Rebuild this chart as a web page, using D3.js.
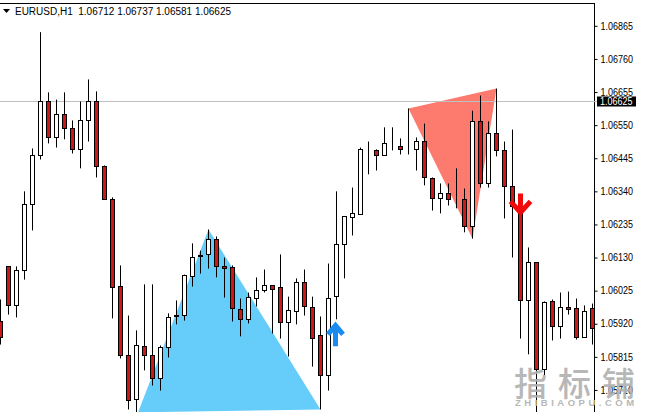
<!DOCTYPE html>
<html><head><meta charset="utf-8">
<script src="https://cdnjs.cloudflare.com/ajax/libs/d3/7.8.5/d3.min.js"></script>
<style>html,body{margin:0;padding:0;background:#fff;overflow:hidden}svg{display:block}</style>
</head><body><svg id="c" width="647" height="412"></svg>
<script>
// prices in points (1e-5)
const opens =[105927,106102,105978,106089,106298,106454,106625,106511,106584,106539,106473,106565,106625,106419,106314,106038,105819,105680,105848,105819,105746,105845,105943,105946,106070,106133,106140,106187,106102,106098,105965,105934,106000,106026,106041,106035,105924,105959,106051,105972,105883,105756,106006,106171,106257,106267,106473,106470,106454,106485,106482,106473,106473,106498,106381,106317,106333,106314,106314,106229,106562,106365,106524,106470,106355,106289,105994,106114,105775,105991,105911,105972,105968,105876,105968];
const highs =[105997,106102,106102,106340,106476,106845,106654,106631,106654,106565,106625,106695,106657,106422,106321,106105,105946,105899,106045,106045,105851,105953,105994,106076,106175,106152,106219,106197,106130,106105,106000,106019,106067,106092,106041,106140,106006,106064,106092,106006,105943,106111,106340,106260,106352,106479,106498,106473,106543,106543,106508,106603,106511,106555,106384,106365,106365,106413,106349,106596,106644,106562,106666,106498,106536,106327,106162,106114,105991,105997,106019,106022,106000,105978,105984];
const lows  =[105854,105949,105940,106060,106216,106441,106492,106479,106505,106460,106413,106498,106384,106314,105937,105810,105648,105639,105772,105724,105708,105813,105918,105930,106038,106079,106095,106067,106003,105927,105880,105921,105975,106019,105889,105873,105816,105918,105946,105784,105648,105708,105934,106064,106200,106267,106394,106406,106454,106470,106457,106457,106406,106359,106279,106270,106295,106286,106210,106190,106352,106352,106451,106254,106130,105873,105823,105639,105756,105867,105873,105949,105870,105876,105854];
const closes=[105876,105978,106089,106298,106454,106625,106511,106584,106539,106473,106565,106625,106419,106314,106035,105819,105677,105851,105819,105746,105845,105940,105946,106073,106130,106137,106187,106102,106095,105968,105934,106003,106026,106041,106029,105924,105962,106051,105975,105873,105756,106000,106171,106260,106270,106473,106473,106454,106492,106485,106473,106473,106498,106384,106317,106333,106314,106314,106229,106562,106365,106524,106470,106355,106292,105994,106114,105775,105987,105911,105972,105965,105876,105959,105905];
const priceTicks=[106865,106760,106655,106550,106445,106340,106235,106130,106025,105920,105815,105710];
const lastPrice=106625;
const titleText="EURUSD,H1  1.06712 1.06737 1.06581 1.06625";
const blueIdx=[17.2,26,40], bluePrice=[105639,106219,105648];
const redIdx=[51,62,59], redPrice=[106603,106666,106190];
const watermarkCn="指标铺", watermarkEn="ZHIBIAOPU.COM";

const svg=d3.select("#c");
const x=d3.scaleLinear().domain([0,74]).range([0.5,592.5]);
const y=d3.scaleLinear().domain([106625,105710]).range([101.5,389.95]);
const fmt=p=>(p/1e5).toFixed(5);
const font="'Liberation Sans',sans-serif";
const fs=10, labelW=32.5;

svg.append("defs").append("clipPath").attr("id","plot").append("rect").attr("x",0).attr("y",4).attr("width",594).attr("height",408);
const g=svg.append("g").attr("clip-path","url(#plot)");

// triangles
const poly=(ix,pr,col)=>g.append("polygon").attr("points",ix.map((d,i)=>[x(d),y(pr[i])].join(",")).join(" ")).attr("fill",col);
poly(blueIdx,bluePrice,"#66ccfa");
poly(redIdx,redPrice,"#fc7a6e");
// price line
g.append("line").attr("x1",0).attr("x2",594).attr("y1",y(lastPrice)).attr("y2",y(lastPrice)).attr("stroke","#c0c0c0");

// candles
const idx=d3.range(opens.length);
g.selectAll("line.w").data(idx).join("line").attr("class","w")
  .attr("x1",x).attr("x2",x).attr("y1",i=>y(highs[i])).attr("y2",i=>y(lows[i])).attr("stroke","#000");
g.selectAll("rect.b").data(idx).join("rect").attr("class","b")
  .attr("x",i=>x(i)-2).attr("width",4)
  .attr("y",i=>Math.round(y(Math.max(opens[i],closes[i]))-.5)+.5)
  .attr("height",i=>Math.round(Math.abs(y(opens[i])-y(closes[i]))))
  .attr("fill",i=>closes[i]<opens[i]?"#cc1818":"#fff").attr("stroke","#000");

// arrows, anchored on their candles
const up=[x(42)-1,y(lows[42])+3], dn=[x(65),y(highs[65])-2];
const a=g.append("g");
a.append("path").attr("transform",`translate(${up})`).attr("fill","none").attr("stroke","#1a8cf0")
 .attr("stroke-width",5).attr("d","M0,3V24M-7.5,12L0,3L7.5,12");
a.append("path").attr("transform",`translate(${dn})`).attr("fill","none").attr("stroke","#f00a0a")
 .attr("stroke-width",5).attr("d","M0,0V19M-10,8L0,19L10,8");

// frame + axis
svg.append("line").attr("x1",0).attr("x2",595).attr("y1",3.5).attr("y2",3.5).attr("stroke","#000");
const ax=svg.append("g").attr("transform","translate(594.5,0)")
 .call(d3.axisRight(y).tickValues(priceTicks).tickFormat(fmt).tickSize(3).tickPadding(3));
ax.select(".domain").remove();
ax.selectAll("text").attr("font-family",font).attr("font-size",fs).attr("fill","#000")
  .attr("textLength",labelW).attr("lengthAdjust","spacingAndGlyphs");
ax.selectAll("line").attr("stroke","#000");
svg.append("line").attr("x1",594.5).attr("x2",594.5).attr("y1",3).attr("y2",412).attr("stroke","#000");

// last price label
const ly=y(lastPrice);
svg.append("rect").attr("x",597).attr("y",ly-5).attr("width",39).attr("height",10).attr("fill","#000");
svg.append("line").attr("x1",594).attr("x2",597).attr("y1",ly).attr("y2",ly).attr("stroke","#c0c0c0");
svg.append("text").attr("x",600).attr("y",ly+3.5).attr("font-family",font).attr("font-size",fs).attr("fill","#fff")
  .attr("textLength",labelW).attr("lengthAdjust","spacingAndGlyphs").text(fmt(lastPrice));

// title
svg.append("path").attr("d","M3,9H10L6.5,13Z").attr("fill","#000");
svg.append("text").attr("x",15).attr("y",15).attr("font-family",font).attr("font-size",fs).attr("fill","#000")
  .attr("textLength",216).attr("lengthAdjust","spacingAndGlyphs").style("white-space","pre").text(titleText);

// watermark
svg.append("text").attr("x",514).attr("y",396).attr("font-family","'Noto Sans CJK SC'").attr("font-weight",500).attr("font-size",33)
 .attr("letter-spacing",11).attr("fill","#b0b0b0").attr("opacity",.9).text(watermarkCn);
svg.append("text").attr("x",515).attr("y",406).attr("font-family",font).attr("font-weight",700).attr("font-size",9.5)
 .attr("letter-spacing",3.5).attr("fill","#b8b8b8").text(watermarkEn);
</script></body></html>
